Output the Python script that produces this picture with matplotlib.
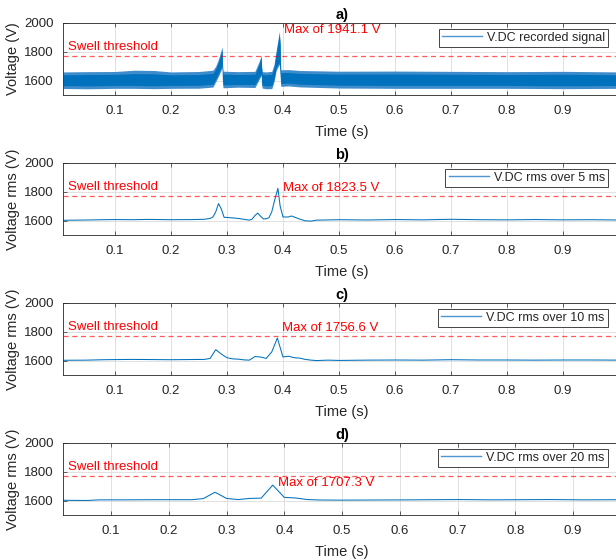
import numpy as np
import matplotlib
matplotlib.use('Agg')
import matplotlib.pyplot as plt
import matplotlib.transforms as mtransforms

plt.rcParams['font.family'] = ['Liberation Sans', 'DejaVu Sans']

SWELL = 1770.0

# a) recorded signal, drawn as envelopes: outer = min/max, inner = dense core
a_t = [0.008, 0.05, 0.10, 0.135, 0.17, 0.20, 0.25, 0.275, 0.280, 0.285, 0.2915, 0.2920, 0.293,
       0.32, 0.35, 0.354, 0.358, 0.3614, 0.3618, 0.363, 0.37, 0.38, 0.384, 0.388, 0.3935, 0.395,
       0.396, 0.41, 0.43, 0.5, 0.6, 0.7, 0.8, 0.9, 1.003]
a_max = [1660, 1662, 1663, 1672, 1670, 1660, 1663, 1672, 1700, 1750, 1835, 1725, 1665,
         1662, 1664, 1700, 1738, 1777, 1705, 1662, 1660, 1664, 1710, 1810, 1941.1, 1865,
         1675, 1676, 1670, 1665, 1666, 1664, 1662, 1664, 1660]
a_min = [1545, 1543, 1546, 1546, 1544, 1546, 1547, 1555, 1592, 1632, 1690, 1590, 1550,
         1554, 1552, 1582, 1612, 1636, 1572, 1548, 1543, 1544, 1592, 1672, 1712, 1640,
         1560, 1563, 1556, 1548, 1546, 1546, 1546, 1544, 1546]
a_hi = [1640, 1642, 1643, 1648, 1647, 1640, 1642, 1650, 1680, 1728, 1815, 1705, 1645,
        1642, 1644, 1680, 1720, 1765, 1690, 1642, 1640, 1644, 1690, 1790, 1920, 1845,
        1655, 1656, 1650, 1645, 1646, 1644, 1642, 1644, 1640]
a_lo = [1565, 1563, 1566, 1566, 1564, 1566, 1567, 1575, 1610, 1650, 1705, 1610, 1570,
        1573, 1572, 1600, 1628, 1648, 1590, 1568, 1563, 1564, 1610, 1690, 1728, 1660,
        1580, 1582, 1575, 1568, 1566, 1566, 1566, 1564, 1566]

# b) rms over 5 ms
b_t = [0.008, 0.03, 0.05, 0.08, 0.10, 0.13, 0.16, 0.20, 0.24, 0.26, 0.27, 0.275, 0.28, 0.285,
       0.29, 0.295, 0.30, 0.32, 0.34, 0.345, 0.35, 0.355, 0.36, 0.365, 0.37, 0.375, 0.38, 0.385,
       0.391, 0.395, 0.40, 0.41, 0.415, 0.42, 0.43, 0.44, 0.45, 0.46, 0.50, 0.55, 0.60, 0.65,
       0.70, 0.75, 0.80, 0.85, 0.90, 0.95, 1.003]
b_v = [1602, 1603, 1604, 1606, 1607, 1606, 1608, 1606, 1607, 1609, 1615, 1625, 1660, 1718,
       1680, 1622, 1622, 1615, 1603, 1610, 1635, 1652, 1630, 1612, 1612, 1620, 1660, 1740,
       1823.5, 1700, 1625, 1625, 1632, 1625, 1610, 1598, 1596, 1603, 1606, 1604, 1607, 1605,
       1609, 1606, 1605, 1607, 1605, 1606, 1604]

# c) rms over 10 ms
c_t = [0.008, 0.05, 0.08, 0.13, 0.20, 0.26, 0.27, 0.28, 0.29, 0.30, 0.31, 0.32, 0.33, 0.34,
       0.35, 0.36, 0.37, 0.38, 0.39, 0.40, 0.41, 0.42, 0.43, 0.44, 0.45, 0.46, 0.48, 0.50,
       0.55, 0.60, 0.65, 0.70, 0.75, 0.80, 0.85, 0.90, 0.95, 1.003]
c_v = [1602, 1603, 1606, 1608, 1606, 1608, 1615, 1676, 1645, 1620, 1612, 1610, 1605, 1603,
       1628, 1625, 1615, 1660, 1756.6, 1625, 1630, 1620, 1617, 1608, 1603, 1600, 1603, 1601,
       1603, 1604, 1603, 1606, 1604, 1604, 1603, 1604, 1604, 1603]

# d) rms over 20 ms
d_t = [0.0175, 0.04, 0.06, 0.08, 0.12, 0.18, 0.24, 0.26, 0.28, 0.30, 0.32, 0.34, 0.36, 0.38,
       0.40, 0.42, 0.44, 0.46, 0.50, 0.56, 0.62, 0.70, 0.76, 0.86, 0.92, 0.9825]
d_v = [1602, 1601, 1601, 1605, 1605, 1606, 1606, 1614, 1658, 1615, 1607, 1615, 1617, 1707.3,
       1622, 1618, 1607, 1604, 1603, 1604, 1605, 1607, 1605, 1607, 1605, 1606]

panels = ['a)', 'b)', 'c)', 'd)']
legends = ['V.DC recorded signal', 'V.DC rms over 5 ms', 'V.DC rms over 10 ms', 'V.DC rms over 20 ms']
ylabels = ['Voltage (V)', 'Voltage rms (V)', 'Voltage rms (V)', 'Voltage rms (V)']
xlims = [(0.008, 1.003), (0.008, 1.003), (0.008, 1.003), (0.0175, 0.9825)]
max_label_y = [1948, 1824, 1824, 1723]

blue = '#0072BD'
light_blue = '#4d95d0'
dark = '#262626'

fig = plt.figure(figsize=(6.16, 5.6), dpi=100)
bottoms = [0.8304, 0.5804, 0.3304, 0.0804]

for i in range(4):
    ax = fig.add_axes([0.1028, bottoms[i], 0.905, 0.1286])

    if i == 0:
        ax.fill_between(a_t, a_min, a_max, color='#3f8ccc', lw=0)
        ax.fill_between(a_t, a_lo, a_hi, color=blue, lw=0)
        ax.plot([], [], color=blue, lw=0.8, label=legends[i])
        peak_t = a_t[int(np.argmax(a_max))]
        peak_v = max(a_max)
    else:
        t, v = [(b_t, b_v), (c_t, c_v), (d_t, d_v)][i - 1]
        ax.plot(t, v, color=blue, lw=0.75, label=legends[i])
        peak_t = t[int(np.argmax(v))]
        peak_v = max(v)

    ax.axhline(SWELL, color='red', alpha=0.65, lw=0.9, ls=(0, (4, 3)))

    trans = mtransforms.blended_transform_factory(ax.transAxes, ax.transData)
    ax.text(0.0085, 1812, 'Swell threshold', color='red', fontsize=9.5,
            transform=trans, va='baseline', ha='left')
    ax.text(peak_t + 0.009, max_label_y[i], f'Max of {peak_v:.1f} V', color='red',
            fontsize=9.5, va='center', ha='left')

    ax.set_xlim(*xlims[i])
    ax.set_ylim(1500, 2000)
    ax.set_xticks([0.1, 0.2, 0.3, 0.4, 0.5, 0.6, 0.7, 0.8, 0.9])
    ax.set_xticklabels(['0.1', '0.2', '0.3', '0.4', '0.5', '0.6', '0.7', '0.8', '0.9'])
    ax.set_yticks([1600, 1800, 2000])
    ax.grid(True, color='#dcdcdc', lw=0.6)
    ax.set_axisbelow(True)
    ax.tick_params(direction='in', length=3, width=0.5, top=True, right=True,
                   labelsize=9.5, colors=dark, pad=7)
    for s in ax.spines.values():
        s.set_linewidth(0.6)
        s.set_color(dark)

    ax.set_xlabel('Time (s)', fontsize=10.5, color=dark, labelpad=6)
    ax.set_ylabel(ylabels[i], fontsize=10.5, color=dark)
    ax.yaxis.set_label_coords(-0.077, 0.5)
    ax.set_title(panels[i], fontsize=10.5, fontweight='bold', pad=3)

    leg = ax.legend(loc='upper right', bbox_to_anchor=(0.977, 0.92), borderaxespad=0,
                    fancybox=False, edgecolor=dark, framealpha=1, fontsize=9,
                    handlelength=3.2, borderpad=0.25, handletextpad=0.4)
    leg.get_frame().set_linewidth(0.6)
    for h in leg.legend_handles:
        h.set_color(light_blue)
        h.set_linewidth(1.0)
    for txt in leg.get_texts():
        txt.set_color(dark)

fig.savefig('out.png', dpi=100)
